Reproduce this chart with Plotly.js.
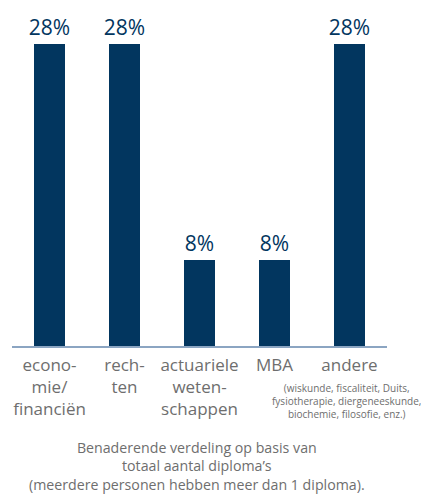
<!DOCTYPE html>
<html>
<head>
<meta charset="utf-8">
<script src="https://cdn.plot.ly/plotly-3.0.1.min.js"></script>
<style>
html, body { margin: 0; padding: 0; background: #ffffff; }
#chart { width: 421px; height: 494px; }
</style>
</head>
<body>
<div id="chart"></div>
<script>
var categories = ["econo-<br>mie/<br>financiën", "rech-<br>ten", "actuariele<br>weten-<br>schappen", "MBA", "andere"];
var values = [28, 28, 8, 8, 28];
var valueLabels = ["28%", "28%", "8%", "8%", "28%"];
var andereNote = "(wiskunde, fiscaliteit, Duits,<br>fysiotherapie, diergeneeskunde,<br>biochemie, filosofie, enz.)";
var captionLines = ["Benaderende verdeling op basis van", "totaal aantal diploma’s", "(meerdere personen hebben meer dan 1 diploma)."];

var navy = "#02365f";
var grey = "#6e6e6e";
var font = "'Open Sans', 'Noto Sans', sans-serif";

var trace = {
  type: "bar",
  x: [0, 1, 2, 3, 4],
  y: values,
  width: 0.413,
  marker: { color: navy },
  text: valueLabels,
  textposition: "outside",
  constraintext: "none",
  cliponaxis: false,
  textfont: { family: font, size: 21, color: navy },
  hoverinfo: "none"
};

var annotations = [
  {
    xref: "x", yref: "paper", x: 4, xshift: -3, y: -0.108, yanchor: "top", xanchor: "center",
    text: andereNote, showarrow: false, align: "center",
    font: { family: font, size: 10, color: grey }
  },
  {
    xref: "paper", yref: "paper",
    x: (197 - 12) / 375, y: (346 - 466) / 302,
    xanchor: "center", yanchor: "middle", align: "center", borderpad: 0,
    text: captionLines.join("<br>"), showarrow: false,
    font: { family: font, size: 14.2, color: grey }
  }
];

var layout = {
  width: 421, height: 494,
  margin: { l: 12, r: 34, t: 44, b: 148 },
  paper_bgcolor: "#ffffff", plot_bgcolor: "#ffffff",
  showlegend: false,
  xaxis: {
    range: [-0.5, 4.5],
    tickmode: "array", tickvals: [0, 1, 2, 3, 4], ticktext: categories,
    ticks: "", showgrid: false, zeroline: false,
    showline: true, linecolor: "#8ba5c2", linewidth: 1.5,
    ticklabelstandoff: 3,
    tickfont: { family: font, size: 17, color: grey },
    fixedrange: true
  },
  yaxis: {
    range: [0, 28], visible: false, showgrid: false, zeroline: false, fixedrange: true
  },
  annotations: annotations,
  bargap: 0
};

Plotly.newPlot("chart", [trace], layout, { displayModeBar: false, staticPlot: true });
</script>
</body>
</html>
